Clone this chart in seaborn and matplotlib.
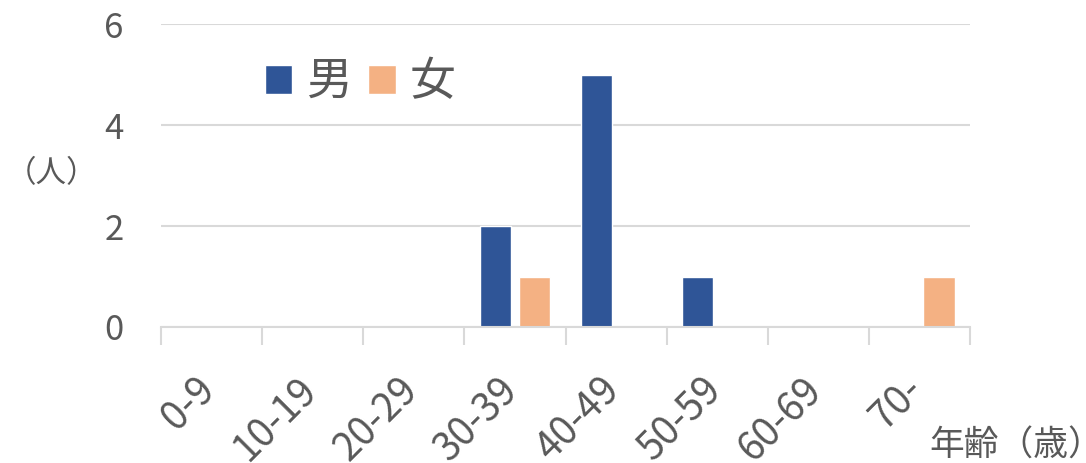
import pandas as pd
import matplotlib
matplotlib.use('Agg')
import matplotlib.pyplot as plt
import matplotlib.transforms as mtransforms
import seaborn as sns
import numpy as np

# データ
age_groups = ['0-9', '10-19', '20-29', '30-39', '40-49', '50-59', '60-69', '70-']
male = [0, 0, 0, 2, 5, 1, 0, 0]
female = [0, 0, 0, 1, 0, 0, 0, 1]
sex_labels = ['男', '女']
y_ticks = [0, 2, 4, 6]

df = pd.DataFrame({
    '年齢': age_groups * 2,
    '性別': [sex_labels[0]] * len(age_groups) + [sex_labels[1]] * len(age_groups),
    '人数': male + female,
})

sns.set_theme(style='white')
plt.rcParams['font.family'] = ['Noto Sans CJK JP', 'DejaVu Sans']

text_color = '#595959'
grid_color = '#D9D9D9'

fig = plt.figure(figsize=(10.86, 4.63), dpi=100)
ax = fig.add_axes([161 / 1086, 136 / 463, 809 / 1086, 303 / 463])

sns.barplot(data=df, x='年齢', y='人数', hue='性別', order=age_groups,
            hue_order=sex_labels, palette=['#2F5597', '#F4B183'],
            width=0.772, gap=0.2, saturation=1, ax=ax, legend=True)

ax.set_xlim(-0.5, len(age_groups) - 0.5)
ax.set_ylim(0, 6)
ax.set_yticks(y_ticks)
ax.yaxis.grid(True, color=grid_color, linewidth=1.5)
ax.set_axisbelow(True)
for s in ['top', 'right', 'left']:
    ax.spines[s].set_visible(False)
ax.spines['bottom'].set_color(grid_color)
ax.spines['bottom'].set_linewidth(1.5)

# 目盛り
ax.tick_params(axis='y', length=0, labelsize=25, labelcolor=text_color, pad=27)
ax.tick_params(axis='x', which='major', length=0, labelsize=28, labelcolor=text_color, pad=31)
ax.set_xticks(np.arange(-0.5, len(age_groups)), minor=True)
ax.tick_params(axis='x', which='minor', bottom=True, length=13, width=1.5, color=grid_color)
shift = mtransforms.ScaledTranslation(12 / 100, 0, fig.dpi_scale_trans)
for lab in ax.get_xticklabels():
    lab.set_rotation(45)
    lab.set_ha('right')
    lab.set_va('top')
    lab.set_rotation_mode('default')
    lab.set_transform(lab.get_transform() + shift)

ax.set_xlabel('')
ax.set_ylabel('')
fig.text(6 / 1086, 1 - 174 / 463, '（人）', fontsize=22, color=text_color, va='center', ha='left')
fig.text(1103 / 1086, 1 - 446 / 463, '年齢（歳）', fontsize=25, color=text_color, va='center', ha='right')

leg = ax.legend(loc='center left', bbox_to_anchor=(242 / 1086, 1 - 82 / 463),
                bbox_transform=fig.transFigure, ncol=2, frameon=False, borderpad=0,
                fontsize=33, handlelength=0.6, handleheight=0.6, handletextpad=0.3,
                columnspacing=0.35, labelcolor=text_color)

fig.savefig('out.png', dpi=100)
